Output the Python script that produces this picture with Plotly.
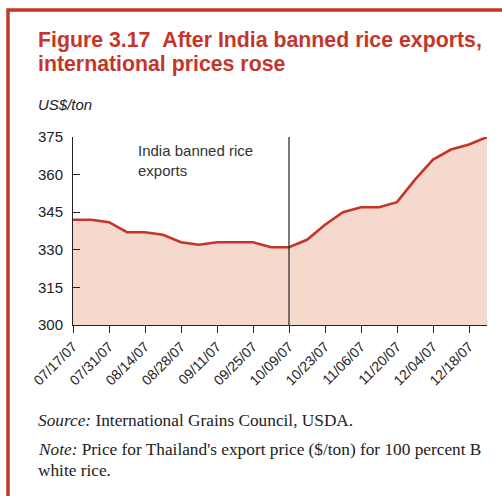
import plotly.graph_objects as go

# ---- data ----
dates = ["2007-07-17", "2007-07-24", "2007-07-31", "2007-08-07", "2007-08-14", "2007-08-21",
         "2007-08-28", "2007-09-04", "2007-09-11", "2007-09-18", "2007-09-25", "2007-10-02",
         "2007-10-09", "2007-10-16", "2007-10-23", "2007-10-30", "2007-11-06", "2007-11-13",
         "2007-11-20", "2007-11-27", "2007-12-04", "2007-12-11", "2007-12-18", "2007-12-25"]
prices = [342, 342, 341, 337, 337, 336, 333, 332, 333, 333, 333, 331,
          331, 334, 340, 345, 347, 347, 349, 358, 366, 370, 372, 375]
tick_dates = dates[::2]
tick_labels = ["07/17/07", "07/31/07", "08/14/07", "08/28/07", "09/11/07", "09/25/07",
               "10/09/07", "10/23/07", "11/06/07", "11/20/07", "12/04/07", "12/18/07"]
y_ticks = [300, 315, 330, 345, 360, 375]
ban_date = "2007-10-09"

RED = "#c5352a"
W, H = 502, 496
L, R, T, B = 73, 15, 137, 171
PW, PH = W - L - R, H - T - B


def px(x):
    return (x - L) / PW


def py(y):
    return (H - B - y) / PH


fig = go.Figure()
fig.add_trace(go.Scatter(
    x=dates, y=prices, mode="lines", fill="tozeroy",
    fillcolor="#f6d9cd", line=dict(color=RED, width=2.6), hoverinfo="skip"))

fig.add_shape(type="line", xref="x", yref="y", x0=ban_date, x1=ban_date, y0=300, y1=375,
              line=dict(color="#222", width=1.2))
# red frame
fig.add_shape(type="rect", xref="paper", yref="paper", x0=px(8), x1=px(540), y0=py(10), y1=py(540),
              line=dict(color=RED, width=3.5), layer="above")

SANS = "Liberation Sans, Arial"
SERIF = "Liberation Serif, Times New Roman"


def note(text, x, y, size, family, color="#222", yanchor="middle"):
    return dict(text=text, x=px(x), y=py(y), xref="paper", yref="paper", align="left",
                xanchor="left", yanchor=yanchor, showarrow=False,
                font=dict(family=family, size=size, color=color))


ann = [
    note("<b>Figure 3.17\u00a0\u00a0After India banned rice exports,</b>", 36, 40, 21.3, SANS, RED),
    note("<b>international prices rose</b>", 36, 64, 21.3, SANS, RED),
    note("<i>US$/ton</i>", 36, 104, 15, SANS),
    note("India banned rice<br>exports", 136, 140, 15, SANS, "#333", "top"),
    note("<i>Source:</i> International Grains Council, USDA.", 36, 420, 17.3, SERIF),
    note("<i>Note:</i> Price for Thailand's export price ($/ton) for 100 percent B", 36, 449, 17.3, SERIF),
    note("white rice.", 36, 470, 17.3, SERIF),
]

fig.update_layout(
    width=W, height=H, margin=dict(l=L, r=R, t=T, b=B, autoexpand=False),
    paper_bgcolor="white", plot_bgcolor="white", showlegend=False,
    annotations=ann,
    xaxis=dict(type="date", range=[dates[0], dates[-1]], tickvals=tick_dates, ticktext=tick_labels,
               tickangle=-45, ticks="outside", ticklen=7, tickcolor="#222", showline=True,
               linecolor="#222", linewidth=1, showgrid=False, zeroline=False,
               tickfont=dict(family=SANS, size=14, color="#222")),
    yaxis=dict(range=[300, 375], tickvals=y_ticks, ticks="inside", ticklen=7, tickcolor="#222",
               showline=True, linecolor="#222", linewidth=1, showgrid=False, zeroline=False,
               ticklabelstandoff=6,
               tickfont=dict(family=SANS, size=15, color="#222")),
)

fig.write_html("out.html", config={"displayModeBar": False},
               post_script="document.body.style.margin='0';")
